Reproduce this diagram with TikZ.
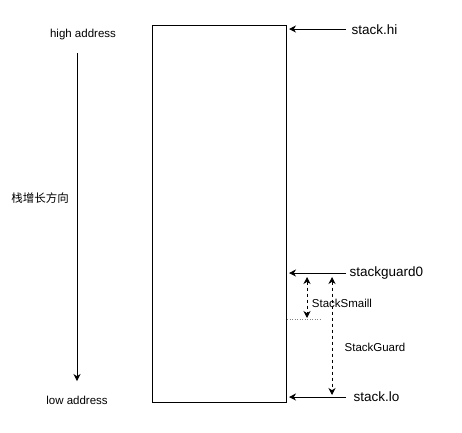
\documentclass[tikz,border=0pt]{standalone}
\usepackage{fontspec}
\setmainfont{Liberation Sans}
\newfontfamily\cjk{Noto Sans CJK SC}
\usetikzlibrary{arrows.meta}
\usetikzlibrary{positioning}

\begin{document}
\begin{tikzpicture}[->,>={Stealth[length=7pt,width=7pt,inset=2.2pt]},
      x=1pt, y=-1pt,
      line width=1pt,
      small/.style={font=\fontsize{11.5}{13}\selectfont, inner sep=0pt},
      big/.style={font=\fontsize{13.5}{15}\selectfont, inner sep=0pt, anchor=west},
      frame/.style={draw, minimum width=134pt, minimum height=377pt, inner sep=0pt},
      guard/.style={<->, dashed, line width=0.9pt}]

    \useasboundingbox (0,0) rectangle (462,432);

    \node[frame]
      (Stack) at (219.5,213.5) {};
    \node[small]
      (HighAddr) at (83,34.5) {high address};
    \node[small]
      (LowAddr) at (77,400) {low address};
    \node[small]
      (Direction) at (40,198) {\cjk 栈增长方向};
    \node[big]
      (StackHi) at (351,30) {stack.hi};
    \node[big]
      (StackGuard0) at (349,273) {stackguard0};
    \node[big]
      (StackLo) at (353,397) {stack.lo};
    \node[small]
      (StackSmall) at (342,303) {StackSmaill};
    \node[small]
      (StackGuard) at (375,347) {StackGuard};

    \coordinate (GrowTop) at (77,53);
    \coordinate (GrowBottom) at (77,381);
    \coordinate (HiStart) at (346,29);
    \coordinate (G0Start) at (346,273);
    \coordinate (LoStart) at (346,397);
    \coordinate (SmallTop) at (307,277);
    \coordinate (SmallBottom) at (307,318);
    \coordinate (GuardTop) at (332,277);
    \coordinate (GuardBottom) at (332,395);
    \coordinate (SmallMark) at (320,319);

    \draw (GrowTop) -- (GrowBottom);
    \draw[shorten >=2pt] (HiStart) -- (HiStart -| Stack.east);
    \draw[shorten >=2pt] (G0Start) -- (G0Start -| Stack.east);
    \draw[shorten >=2pt] (LoStart) -- (LoStart -| Stack.east);
    \draw[guard] (SmallTop) -- (SmallBottom);
    \draw[guard] (GuardTop) -- (GuardBottom);
    \draw[-, dotted, line width=0.5pt, gray] (SmallMark -| Stack.east) -- (SmallMark);

  \end{tikzpicture}
\end{document}
